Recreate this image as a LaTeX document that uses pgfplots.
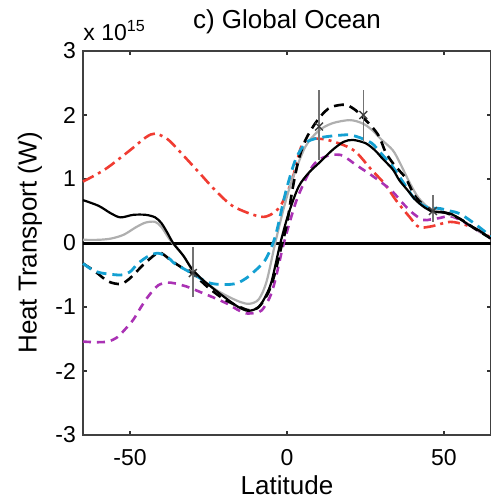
\documentclass[border=0pt]{standalone}
\usepackage{fontspec}
\setmainfont{Liberation Sans}
\usepackage{pgfplots}
\pgfplotsset{compat=1.18}
\definecolor{cred}{RGB}{240,60,50}
\definecolor{ccyan}{RGB}{20,160,210}
\definecolor{cpurple}{RGB}{170,50,180}
\definecolor{cgray}{RGB}{175,175,175}
\begin{document}
\begin{tikzpicture}
\useasboundingbox (-41.5pt,-31pt) rectangle (204pt,217.5pt);
\begin{axis}[
  at={(0,0)}, anchor=south west,
  scale only axis, width=204pt, height=192pt,
  xmin=-65, xmax=65, ymin=-3, ymax=3,
  xtick={-50,0,50}, xticklabels={-50,0,50},
  ytick={-3,-2,-1,0,1,2,3}, yticklabels={-3,-2,-1,0,1,2,3},
  tick align=inside, major tick length=2pt,
  tick style={black!80, line width=0.6pt},
  axis line style={black!75, line width=0.8pt},
  ticklabel style={font=\fontsize{11.5}{13}\selectfont},
  xticklabel style={yshift=-3.7pt},
  every axis x label/.style={at={(axis description cs:0.5,-0.13)}, anchor=center},
  every axis y label/.style={at={(axis description cs:-0.13,0.5)}, rotate=90, anchor=center},
  label style={font=\fontsize{13}{15}\selectfont},
  every axis title/.style={at={(axis description cs:0.5,1.0755)}, anchor=center, font=\fontsize{13}{15}\selectfont},
  title={c) Global Ocean},
  xlabel={Latitude},
  ylabel={Heat Transport (W)},
  clip=false,
  every axis plot/.append style={line cap=butt},
]
% zero line
\addplot[black, line width=1.5pt] coordinates {(-65,0) (65,0)};

% red dash-dot
\addplot[cred, line width=1.3pt, smooth, dash pattern=on 6pt off 2.5pt on 1.5pt off 2.5pt] coordinates {
(-65,0.96) (-58,1.15) (-50,1.45) (-45,1.65) (-42,1.71) (-38,1.62) (-34,1.42) (-28,1.10)
(-23,0.83) (-18,0.60) (-14,0.50) (-10,0.43) (-7,0.41) (-4,0.48) (-1.6,0.62) (1.6,0.98)
(4.5,1.50) (7,1.62) (12,1.62) (18,1.53) (22,1.42) (27,1.14) (31,0.93) (35,0.65)
(39,0.41) (42,0.25) (46,0.26) (52,0.33) (57,0.28) (61,0.2) (65,0.08)};

% purple dashed
\addplot[cpurple, line width=1.3pt, smooth, dash pattern=on 4pt off 3pt] coordinates {
(-65,-1.54) (-61,-1.55) (-57,-1.54) (-54,-1.47) (-51.8,-1.36) (-49,-1.2) (-46.5,-1.0)
(-44,-0.82) (-41,-0.66) (-38,-0.62) (-35.8,-0.63) (-32,-0.68) (-29.4,-0.73) (-26,-0.8)
(-23,-0.86) (-19,-0.95) (-15.5,-1.05) (-13,-1.1) (-10,-1.09) (-8,-1.05) (-5.5,-0.85)
(-3.75,-0.58) (-1,0.0) (2.7,0.62) (5.5,0.95) (8,1.19) (10.2,1.3) (13.4,1.37) (16,1.38)
(18,1.36) (22,1.22) (26,1.09) (30,0.95) (33.7,0.80) (36.9,0.62) (40,0.47) (43.3,0.36)
(46,0.37) (48.6,0.39) (52,0.42) (56,0.34) (60,0.22) (65,0.07)};

% gray solid
\addplot[cgray, line width=1.1pt, smooth] coordinates {
(-65,0.05) (-60,0.05) (-56,0.07) (-52,0.13) (-48,0.25) (-45,0.32) (-42,0.33) (-40,0.25)
(-38,0.10) (-36.5,0.0) (-33,-0.2) (-30,-0.42) (-27,-0.57) (-23,-0.72) (-19,-0.83)
(-15,-0.92) (-12,-0.95) (-9,-0.88) (-6.5,-0.6) (-3.75,0.0) (-1,0.55) (1.6,0.98)
(5.8,1.5) (10,1.75) (14.4,1.87) (20,1.92) (24,1.87) (27,1.77) (30,1.62) (33.7,1.45)
(36,1.25) (39,0.95) (42,0.70) (46,0.52) (50,0.48) (55,0.38) (60,0.22) (65,0.07)};

% black dashed
\addplot[black, line width=1.3pt, smooth, dash pattern=on 5pt off 3pt] coordinates {
(-65,-0.32) (-61,-0.45) (-57,-0.6) (-53,-0.64) (-50,-0.55) (-46,-0.35) (-42,-0.18)
(-40,-0.16) (-37,-0.27) (-33,-0.40) (-30,-0.48) (-25,-0.7) (-20,-0.88) (-15,-1.0)
(-12,-1.05) (-9,-1.0) (-6,-0.78) (-4,-0.5) (-2,-0.1) (0,0.3) (1.6,0.8) (3.7,1.3)
(6,1.62) (9,1.87) (12,2.05) (14.4,2.13) (18.7,2.16) (22,2.07) (24,1.97) (27,1.82)
(29.4,1.66) (31.4,1.42) (33.7,1.25) (36,1.12) (38,1.0) (41,0.72) (46,0.5) (50,0.48)
(55,0.38) (60,0.22) (65,0.07)};

% cyan dashed
\addplot[ccyan, line width=1.4pt, smooth, dash pattern=on 5pt off 3pt] coordinates {
(-65,-0.32) (-62,-0.42) (-59,-0.47) (-53,-0.5) (-50,-0.45) (-47.5,-0.32) (-44,-0.2)
(-41,-0.16) (-38,-0.22) (-35.8,-0.32) (-30.4,-0.47) (-25,-0.62) (-20,-0.65) (-16,-0.63)
(-13,-0.55) (-11,-0.47) (-7,-0.27) (-3.75,0.1) (-0.5,0.78) (2.7,1.3) (5.9,1.56) (9,1.63)
(12.3,1.66) (16,1.68) (19.8,1.69) (23,1.65) (27,1.56) (30,1.40) (33.7,1.19) (37,0.95)
(41,0.67) (45,0.55) (48.6,0.54) (52,0.50) (55,0.46) (59,0.33) (62.5,0.2) (65,0.1)};

% black solid
\addplot[black, line width=1.1pt, smooth] coordinates {
(-65,0.67) (-60,0.58) (-56,0.46) (-53,0.40) (-49,0.44) (-45,0.44) (-42,0.40) (-40,0.31)
(-38,0.15) (-36.3,0.0) (-33,-0.2) (-30.4,-0.40) (-27,-0.57) (-23,-0.73) (-19,-0.88)
(-15.5,-1.0) (-12.3,-1.06) (-9,-1.0) (-6.5,-0.8) (-4.8,-0.58) (-2.1,0.0) (0.5,0.46)
(3.7,0.88) (7,1.10) (10.2,1.25) (14.4,1.45) (18,1.58) (21,1.61) (25,1.56) (28,1.45)
(30.4,1.32) (33.7,1.15) (35.8,0.98) (38.5,0.82) (41,0.67) (44,0.55) (46.5,0.49)
(49,0.48) (52,0.46) (55,0.38) (58,0.28) (61,0.2) (65,0.07)};

% error bars with markers
\addplot[only marks, mark=x, mark size=2.8pt, black!75, line width=0.7pt,
  error bars/.cd, y dir=both, y explicit,
  error bar style={black!55, line width=0.7pt}, error mark=none]
coordinates {
(-30,-0.47) += (0,0.41) -= (0,0.37)
(10.2,1.82) += (0,0.57) -= (0,0.52)
(24.3,2.0) += (0,0.39) -= (0,0.42)
(46.5,0.5) += (0,0.25) -= (0,0.17)};

\node[anchor=base west, inner sep=0pt, font=\fontsize{11.5}{13}\selectfont]
  at (axis description cs:0,1) [yshift=5.5pt] {x 10\textsuperscript{15}};
\end{axis}
\end{tikzpicture}
\end{document}
